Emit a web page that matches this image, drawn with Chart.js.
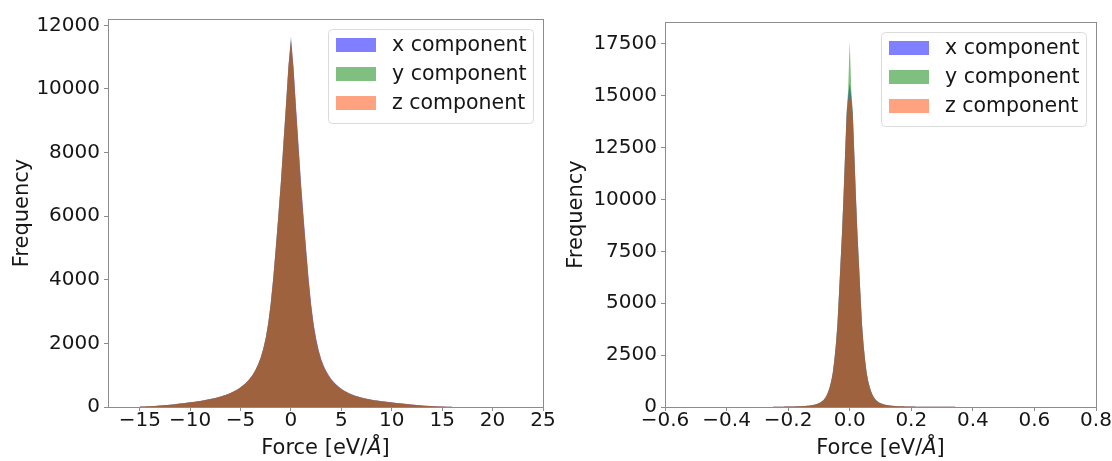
<!DOCTYPE html>
<html>
<head>
<meta charset="utf-8">
<script src="https://cdn.jsdelivr.net/npm/chart.js@4.4.1/dist/chart.umd.min.js"></script>
<style>
  html, body { margin: 0; padding: 0; background: #ffffff; }
  #wrap { position: relative; width: 1112px; height: 461px; }
  canvas { position: absolute; top: 0; }
  #forceWide { left: 0; }
  #forceNarrow { left: 556px; }
</style>
</head>
<body>
<div id="wrap">
  <canvas id="forceWide" width="556" height="461"></canvas>
  <canvas id="forceNarrow" width="556" height="461"></canvas>
</div>
<script>
// Series names and fill colours (drawn at half opacity, z on top)
const seriesLabels = ['x component', 'y component', 'z component'];
const seriesColors = ['rgba(0,0,255,0.5)', 'rgba(0,128,0,0.5)', 'rgba(255,69,0,0.5)'];

// Wide force distribution: bins of 0.25 eV/Å, first bin centred at -15
const wideBinStart = -15;
const wideBinWidth = 0.25;
const wideX = [14,16,19,22,26,30,35,40,46,52, 59,66,74,82,90,99,108,118,128,138, 148,158,168,179,191,204,218,233,249,266, 285,305,327,352,379,409,442,479,521,568, 621,681,750,830,925,1040,1180,1350,1560,1830, 2180,2650,3280,4080,5030,6030,7080,8280,9470,10720,
  11650,
  10700,9450,8250,7050,6000,5000,4050,3250,2620,2150, 1790,1510,1300,1130,995,880,785,705,635,575, 522,476,436,401,370,343,319,297,277,260, 244,229,216,204,193,182,172,163,154,146, 137,128,119,110,101,92,84,76,68,61, 54,48,42,37,32,28,24,21,18,15, 13,11,9,8];
const wideY = [13,15,18,21,25,29,34,39,45,51, 58,65,73,81,89,98,107,117,127,137, 147,157,167,178,190,203,217,232,248,265, 284,304,326,351,378,408,441,478,520,567, 620,680,749,829,924,1038,1178,1348,1558,1828, 2178,2648,3278,4078,5028,6028,7078,8278,9468,10700,
  11500,
  10620,9320,8100,6900,5860,4870,3940,3160,2545,2090, 1740,1470,1268,1103,972,860,768,690,622,564, 513,468,429,395,365,339,315,294,274,257, 241,227,214,202,191,180,170,161,152,144, 135,126,117,108,99,90,82,74,66,59, 52,46,40,35,30,26,22,19,16,13, 11,9,7,6];
const wideZ = [14,16,18,22,26,30,34,40,46,52, 59,66,74,82,90,99,108,118,128,138, 148,158,168,179,191,204,218,233,249,266, 285,305,327,352,379,409,442,479,521,568, 621,681,750,830,925,1040,1180,1350,1560,1830, 2180,2650,3280,4080,5030,6030,7080,8280,9470,10720,
  11550,
  10650,9360,8140,6940,5900,4910,3975,3190,2570,2110, 1758,1485,1280,1113,980,867,774,695,626,568, 516,471,432,397,367,340,316,295,275,258, 242,228,215,203,192,181,171,162,153,145, 136,127,118,109,100,91,83,75,67,60, 53,47,41,36,31,27,23,20,17,14, 12,10,8,7];
const wideXTicks = [-15, -10, -5, 0, 5, 10, 15, 20, 25];
const wideYTicks = [0, 2000, 4000, 6000, 8000, 10000, 12000];

// Narrow force distribution: bins of 0.005 eV/Å, first bin centred at -0.25
const narrowBinStart = -0.25;
const narrowBinWidth = 0.005;
const narrowX = [12,13,13,14,15,16,17,18,19,20, 22,23,25,27,29,31,33,36,39,42, 46,51,56,63,71,80,92,107,126,152, 185,222,272,340,432,560,730,960,1250,1650, 2250,3000,3960,5400,6900,8400,10200,12200,14150,15000,
  15600,
  15000,14150,12200,10200,8400,6900,5400,3960,3000,2250, 1650,1250,960,730,560,432,340,272,222,185, 152,126,107,92,80,71,63,56,51,46, 42,39,36,33,31,29,27,25,23,22, 20,19,18,17,16,15,14,13,13,12, 12,11,11,10,10,10,9,9,9,9, 8,8,8,8,7,7,7,7,6,6];
const narrowY = [12,12,13,14,15,16,17,18,19,21, 22,23,25,27,29,31,34,36,39,43, 47,51,57,63,72,81,93,108,127,154, 187,224,275,343,436,565,736,968,1260,1665, 2270,3020,3990,5440,6950,8450,10260,12280,14250,15300,
  17650,
  15280,14230,12260,10240,8430,6920,5420,3980,3010,2260, 1660,1255,965,733,562,434,341,273,223,186, 153,127,108,92,80,71,63,56,51,46, 42,39,36,33,31,29,27,25,23,22, 20,19,18,17,16,15,14,13,13,12, 12,11,11,10,10,10,9,9,9,9, 8,8,8,8,7,7,7,7,6,6];
const narrowZ = [11,12,13,14,15,16,17,18,19,20, 21,23,25,26,29,30,33,35,38,42, 46,50,55,62,70,79,91,106,125,150, 183,220,269,337,428,555,724,952,1240,1640, 2235,2985,3940,5370,6860,8350,10140,12120,14000,14700,
  15100,
  14680,13980,12130,10150,8360,6870,5380,3940,2985,2240, 1640,1243,955,726,557,430,338,270,220,184, 151,125,106,91,79,70,62,56,50,45, 41,38,35,33,31,29,27,25,23,22, 20,19,18,17,16,15,14,13,13,12, 12,11,11,10,10,10,9,9,9,9, 8,8,8,8,7,7,7,7,6,6];
const narrowXTicks = [-0.6, -0.4, -0.2, 0.0, 0.2, 0.4, 0.6, 0.8];
const narrowYTicks = [0, 2500, 5000, 7500, 10000, 12500, 15000, 17500];

const yTitle = 'Frequency';
const xTitleParts = [['Force [eV/', 'normal'], ['Å', 'italic'], [']', 'normal']];

const FONT = '"DejaVu Sans", "Liberation Sans", sans-serif';
const TEXT = '#161616';
const SPINE = '#8c8c8c';

// One vertex per bin, placed at the bin centre
function histPoints(start, width, counts) {
  return counts.map((c, i) => ({ x: start + i * width, y: c }));
}

const minus = s => s.replace('-', '\u2212');

// Box around the plotting area
const framePlugin = {
  id: 'frame',
  afterDatasetsDraw(chart) {
    const { ctx, chartArea: a } = chart;
    ctx.save();
    ctx.strokeStyle = SPINE;
    ctx.lineWidth = 1;
    ctx.strokeRect(Math.round(a.left) + 0.5, Math.round(a.top) + 0.5,
                   Math.round(a.right - a.left), Math.round(a.bottom - a.top));
    ctx.restore();
  }
};

// Legend placed in the upper right corner of the plotting area
const insetLegend = {
  id: 'insetLegend',
  afterDraw(chart) {
    const { ctx, chartArea: a } = chart;
    const w = 205, h = 94, inset = 10;
    const x0 = a.right - inset - w, y0 = a.top + inset;
    ctx.save();
    ctx.beginPath();
    ctx.roundRect(x0 + 0.5, y0 + 0.5, w, h, 4);
    ctx.fillStyle = 'rgba(255,255,255,0.8)';
    ctx.fill();
    ctx.strokeStyle = '#dadada';
    ctx.lineWidth = 1;
    ctx.stroke();
    ctx.font = '20.5px ' + FONT;
    ctx.textBaseline = 'middle';
    ctx.textAlign = 'left';
    chart.data.datasets.forEach((ds, i) => {
      const cy = y0 + 16 + i * 29;
      ctx.fillStyle = ds.backgroundColor;
      ctx.fillRect(x0 + 8, cy - 7, 40, 14);
      ctx.fillStyle = TEXT;
      ctx.fillText(ds.label, x0 + 64, cy + 1);
    });
    ctx.restore();
  }
};

// x-axis title with an italic Ångström sign
const xTitlePlugin = {
  id: 'xTitle',
  afterDraw(chart) {
    const { ctx, chartArea: a } = chart;
    ctx.save();
    ctx.fillStyle = TEXT;
    ctx.textBaseline = 'alphabetic';
    ctx.textAlign = 'left';
    const fonts = xTitleParts.map(p => p[1] + ' 21px ' + FONT);
    let total = 0;
    const widths = xTitleParts.map((p, i) => { ctx.font = fonts[i]; const m = ctx.measureText(p[0]).width; total += m; return m; });
    let x = (a.left + a.right) / 2 - total / 2;
    xTitleParts.forEach((p, i) => { ctx.font = fonts[i]; ctx.fillText(p[0], x, 454); x += widths[i]; });
    ctx.restore();
  }
};

function makeHistogram(id, spec) {
  const datasets = [spec.x, spec.y, spec.z].map((counts, i) => ({
    label: seriesLabels[i],
    data: histPoints(spec.binStart, spec.binWidth, counts),
    backgroundColor: seriesColors[i],
    borderColor: 'rgba(0,0,0,0)',
    borderWidth: 0,
    pointRadius: 0,
    tension: 0,
    fill: 'origin',
    order: 3 - i
  }));
  return new Chart(document.getElementById(id), {
    type: 'line',
    data: { datasets },
    options: {
      responsive: false,
      animation: false,
      events: [],
      layout: { padding: { left: 0, top: spec.padTop, right: spec.padRight, bottom: 0 } },
      plugins: { legend: { display: false }, tooltip: { enabled: false } },
      scales: {
        x: {
          type: 'linear',
          min: spec.xMin, max: spec.xMax,
          afterBuildTicks: s => { s.ticks = spec.xTicks.map(v => ({ value: v })); },
          afterFit: s => { s.height = 54; s.paddingLeft = 0; s.paddingRight = 0; },
          ticks: {
            autoSkip: false, maxRotation: 0, padding: 0,
            color: TEXT, font: { family: FONT, size: 20, lineHeight: 1 },
            callback: spec.xFormat
          },
          grid: { drawOnChartArea: false, drawTicks: true, tickLength: 4, color: SPINE },
          border: { display: false },
          title: { display: false }
        },
        y: {
          type: 'linear',
          min: 0, max: spec.yMax,
          afterBuildTicks: s => { s.ticks = spec.yTicks.map(v => ({ value: v })); },
          afterFit: s => { s.width = spec.yAxisWidth; s.paddingTop = 0; s.paddingBottom = 0; },
          ticks: {
            autoSkip: false, padding: 4,
            color: TEXT, font: { family: FONT, size: 20, lineHeight: 1 },
            callback: v => minus(String(v))
          },
          grid: { drawOnChartArea: false, drawTicks: true, tickLength: 4, color: SPINE },
          border: { display: false },
          title: {
            display: true, text: yTitle, color: TEXT,
            font: { family: FONT, size: 21, lineHeight: 1.2 },
            padding: { top: spec.yTitlePad, bottom: 0 }
          }
        }
      }
    },
    plugins: [framePlugin, insetLegend, xTitlePlugin]
  });
}

makeHistogram('forceWide', {
  binStart: wideBinStart, binWidth: wideBinWidth,
  x: wideX, y: wideY, z: wideZ,
  xMin: -18.15, xMax: 25, yMax: 12200,
  xTicks: wideXTicks, yTicks: wideYTicks,
  xFormat: v => minus(String(v)),
  padTop: 19, padRight: 13, yAxisWidth: 108, yTitlePad: 10
});

makeHistogram('forceNarrow', {
  binStart: narrowBinStart, binWidth: narrowBinWidth,
  x: narrowX, y: narrowY, z: narrowZ,
  xMin: -0.6, xMax: 0.8, yMax: 18560,
  xTicks: narrowXTicks, yTicks: narrowYTicks,
  xFormat: v => minus(Number(v).toFixed(1)),
  padTop: 22, padRight: 16, yAxisWidth: 109, yTitlePad: 8
});
</script>
</body>
</html>
